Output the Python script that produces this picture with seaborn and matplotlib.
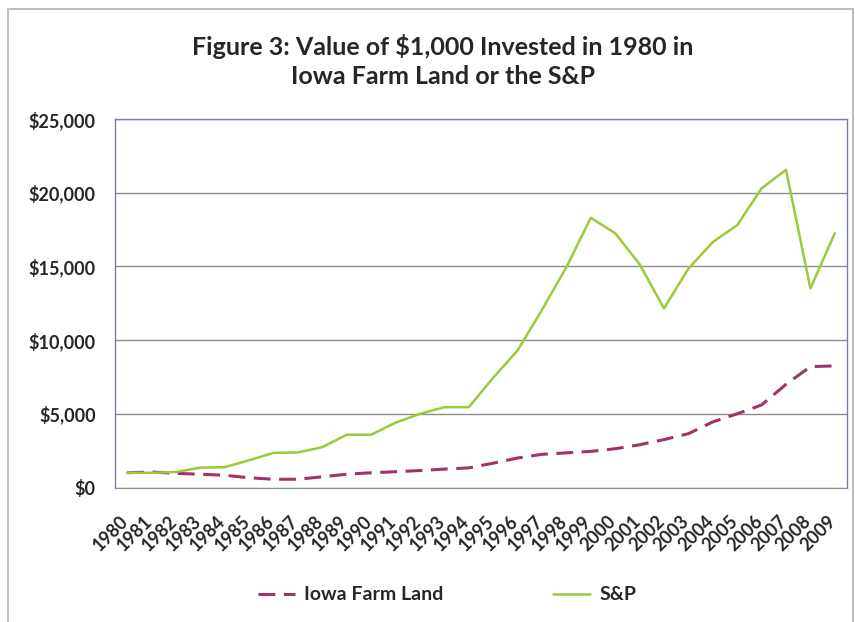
import matplotlib
matplotlib.use("Agg")
import matplotlib.pyplot as plt
import matplotlib.transforms as mtransforms
import seaborn as sns
import pandas as pd
from matplotlib.patches import Rectangle
from matplotlib.ticker import FuncFormatter

# Dados (valor de US$ 1.000 investidos em 1980)
anos = list(range(1980, 2010))
iowa_terra = [1000, 1050, 960, 900, 830, 660, 560, 560, 730, 900,
              1000, 1070, 1150, 1250, 1330, 1650, 2000, 2250, 2350, 2450,
              2630, 2900, 3250, 3650, 4450, 5000, 5600, 7000, 8200, 8250]
sp = [1000, 1000, 1050, 1350, 1380, 1850, 2350, 2380, 2740, 3580,
      3580, 4400, 5000, 5450, 5450, 7450, 9300, 12050, 14950, 18300,
      17250, 15150, 12150, 14850, 16650, 17800, 20300, 21550, 13500, 17250]
rotulos_anos = [str(a) for a in anos]
ticks_y = [0, 5000, 10000, 15000, 20000, 25000]

df = pd.DataFrame({'ano': anos, 'Iowa Farm Land': iowa_terra, 'S&P': sp})

sns.set_style("white")
plt.rcParams['font.family'] = ['Lato', 'DejaVu Sans']

fig = plt.figure(figsize=(8.55, 6.22), dpi=100)
ax = fig.add_axes([115 / 855, 1 - 487.5 / 622, 732 / 855, 368.5 / 622])

sns.lineplot(data=df, x='ano', y='Iowa Farm Land', ax=ax, color='#a2326c',
             linewidth=2.2, label='Iowa Farm Land')
ax.lines[-1].set_dashes([5.5, 2.8])
sns.lineplot(data=df, x='ano', y='S&P', ax=ax, color='#9acb3c',
             linewidth=1.8, label='S&P')

ax.set_xlim(1979.5, 2009.5)
ax.set_ylim(0, 25000)
ax.set_yticks(ticks_y)
ax.yaxis.set_major_formatter(FuncFormatter(lambda v, p: f'${v:,.0f}'))
ax.set_xticks(anos)
ax.set_xticklabels(rotulos_anos, rotation=45, ha='right', va='top',
                   rotation_mode='anchor')
ax.tick_params(axis='x', length=0, pad=18, labelsize=13)
ax.tick_params(axis='y', length=0, pad=14, labelsize=13)
deslocamento = mtransforms.ScaledTranslation(-8 / 100, 0, fig.dpi_scale_trans)
for lbl in ax.get_xticklabels():
    lbl.set_fontweight('bold')
    lbl.set_transform(lbl.get_transform() + deslocamento)
for lbl in ax.get_yticklabels():
    lbl.set_fontweight('bold')
ax.set_xlabel('')
ax.set_ylabel('')

ax.grid(axis='y', color='#8c8c8c', linewidth=1)
ax.set_axisbelow(True)
for lado in ['left', 'right', 'top']:
    ax.spines[lado].set_color('#7b7bb3')
    ax.spines[lado].set_linewidth(1)
ax.spines['bottom'].set_color('#8c8c8c')

ax.get_legend().remove()
handles, labels = ax.get_legend_handles_labels()
fig.legend(handles, labels, loc='center', bbox_to_anchor=(447 / 855, 1 - 595 / 622),
           ncol=2, frameon=False, handlelength=1.9, handletextpad=0.5,
           columnspacing=5.6, prop={'weight': 'bold', 'size': 14})

fig.suptitle('Figure 3: Value of $1,000 Invested in 1980 in\nIowa Farm Land or the S&P',
             x=443 / 855, y=1 - 61 / 622, va='center', fontsize=18,
             fontweight='bold', linespacing=1.3)

# Borda externa do gráfico
fig.patches.append(Rectangle((8 / 855, -0.05), 844.5 / 855, 1.05 - 9 / 622,
                             transform=fig.transFigure, fill=False,
                             edgecolor='#bfbfbf', linewidth=1.5))

fig.savefig('out.png', dpi=100)
plt.close()
